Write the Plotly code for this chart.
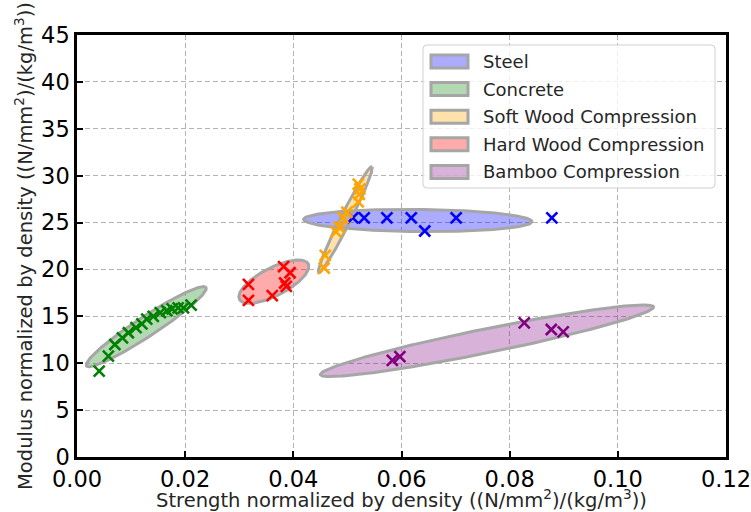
import numpy as np
import plotly.graph_objects as go

# ---- data -------------------------------------------------------------
materials = ["Steel", "Concrete", "Soft Wood Compression",
             "Hard Wood Compression", "Bamboo Compression"]

steel_x = [0.0510, 0.0531, 0.0573, 0.0618, 0.0643, 0.0701, 0.0878]
steel_y = [25.5, 25.5, 25.5, 25.5, 24.1, 25.5, 25.5]

concrete_x = [0.0041, 0.0058, 0.0070, 0.0084, 0.0095, 0.0109, 0.0120, 0.0129,
              0.0141, 0.0154, 0.0166, 0.0176, 0.0187, 0.0197, 0.0211]
concrete_y = [9.15, 10.75, 12.0, 12.7, 13.25, 13.8, 14.2, 14.7,
              15.0, 15.4, 15.6, 15.8, 15.9, 15.9, 16.2]

softwood_x = [0.0457, 0.0459, 0.0479, 0.0485, 0.0492, 0.0499, 0.0520, 0.0522,
              0.0523, 0.0520]
softwood_y = [20.15, 21.5, 24.0, 24.5, 25.5, 26.1, 27.2, 28.0, 28.6, 29.1]

hardwood_x = [0.0317, 0.0317, 0.0361, 0.0384, 0.0387, 0.0382, 0.0394]
hardwood_y = [18.4, 16.7, 17.2, 18.55, 18.2, 20.3, 19.65]

bamboo_x = [0.0583, 0.0597, 0.0827, 0.0877, 0.0899]
bamboo_y = [10.3, 10.7, 14.3, 13.6, 13.35]

series_x = [steel_x, concrete_x, softwood_x, hardwood_x, bamboo_x]
series_y = [steel_y, concrete_y, softwood_y, hardwood_y, bamboo_y]

# spread ellipses: centre, half-extents along x and y, correlation
ell_cx = [0.0630, 0.0128, 0.0496, 0.0364, 0.0758]
ell_cy = [25.22, 13.9, 25.3, 18.7, 12.4]
ell_sx = [0.0211, 0.0111, 0.0050, 0.00647, 0.0308]
ell_sy = [1.19, 4.27, 5.65, 2.31, 3.82]
ell_rho = [-0.1, 0.955, 0.977, 0.70, 0.94]

x_ticks = [0.00, 0.02, 0.04, 0.06, 0.08, 0.10, 0.12]
y_ticks = [0, 5, 10, 15, 20, 25, 30, 35, 40, 45]

# ---- styling ----------------------------------------------------------
marker_colors = ["#0000ff", "#008000", "#ffa500", "#ff0000", "#800080"]
fill_colors = ["rgba(0,0,255,0.33)", "rgba(0,128,0,0.3)", "rgba(255,165,0,0.33)",
               "rgba(255,0,0,0.33)", "rgba(128,0,128,0.3)"]
edge_color = "#a6a6a6"
FONT = "DejaVu Sans"

W, H = 751, 512
L, R, T, B = 77, 25, 35, 55
PW, PH = W - L - R, H - T - B


def px_x(px):
    return (px - L) / PW


def px_y(py):
    return (H - B - py) / PH


def ellipse(cx, cy, sx, sy, rho, n=240):
    t = np.linspace(0, 2 * np.pi, n)
    a, b = np.sqrt(1 + rho), np.sqrt(1 - rho)
    u = (a * np.cos(t) - b * np.sin(t)) / np.sqrt(2)
    v = (a * np.cos(t) + b * np.sin(t)) / np.sqrt(2)
    return cx + sx * u, cy + sy * v


fig = go.Figure()

# ellipses underneath the points
for i, name in enumerate(materials):
    ex, ey = ellipse(ell_cx[i], ell_cy[i], ell_sx[i], ell_sy[i], ell_rho[i])
    fig.add_trace(go.Scatter(
        x=ex, y=ey, mode="lines", fill="toself", fillcolor=fill_colors[i],
        line=dict(color=edge_color, width=3), name=name, showlegend=False,
        hoverinfo="skip"))

for i, name in enumerate(materials):
    fig.add_trace(go.Scatter(
        x=series_x[i], y=series_y[i], mode="markers", name=name,
        showlegend=False,
        marker=dict(symbol="x-thin", size=11, color=marker_colors[i],
                    line=dict(color=marker_colors[i], width=2.6))))

# ---- legend box drawn as shapes + text ---------------------------------
shapes = []
annotations = []
fx0, fx1, fy0, fy1 = 423, 715, 45, 188
r = 4
x0, x1 = px_x(fx0), px_x(fx1)
y0, y1 = px_y(fy1), px_y(fy0)
rx, ry = r / PW, r / PH
path = (f"M{x0 + rx},{y1} L{x1 - rx},{y1} Q{x1},{y1} {x1},{y1 - ry} "
        f"L{x1},{y0 + ry} Q{x1},{y0} {x1 - rx},{y0} L{x0 + rx},{y0} "
        f"Q{x0},{y0} {x0},{y0 + ry} L{x0},{y1 - ry} Q{x0},{y1} {x0 + rx},{y1} Z")
shapes.append(dict(type="path", xref="paper", yref="paper", path=path,
                   fillcolor="rgba(255,255,255,0.8)",
                   line=dict(color="#d0d0d0", width=1), layer="above"))

row0, row_step = 61.5, 27.6
for i, name in enumerate(materials):
    cy = row0 + i * row_step
    shapes.append(dict(type="rect", xref="paper", yref="paper",
                       x0=px_x(431), x1=px_x(468),
                       y0=px_y(cy + 6.5), y1=px_y(cy - 6.5),
                       fillcolor=fill_colors[i],
                       line=dict(color=edge_color, width=3), layer="above"))
    annotations.append(dict(text=name, xref="paper", yref="paper",
                            x=px_x(481), y=px_y(cy), xanchor="left",
                            yanchor="middle", showarrow=False,
                            font=dict(family=FONT, size=18, color="#262626")))

axis_common = dict(
    showline=True, linecolor="black", linewidth=2.5, mirror=True,
    ticks="inside", ticklen=6, tickwidth=2, tickcolor="black",
    showgrid=True, gridcolor="#b3b3b3", gridwidth=1.2, griddash="5px,3px",
    zeroline=False, automargin=False, ticklabeloverflow="allow",
    tickfont=dict(family=FONT, size=22.5, color="black"),
)

fig.update_layout(
    width=W, height=H,
    margin=dict(l=L, r=R, t=T, b=B, pad=0, autoexpand=False),
    plot_bgcolor="white", paper_bgcolor="white",
    font=dict(family=FONT, color="#262626"),
    shapes=shapes, annotations=annotations,
    xaxis=dict(range=[0, 0.12], tickvals=x_ticks,
               ticktext=[f"{v:.2f}" for v in x_ticks],
               title=dict(text="Strength normalized by density ((N/mm<sup>2</sup>)/(kg/m<sup>3</sup>))",
                          font=dict(family=FONT, size=19.5, color="#262626"),
                          standoff=4),
               **axis_common),
    yaxis=dict(range=[0, 45], tickvals=y_ticks,
               ticktext=[str(v) for v in y_ticks],
               title=dict(text="Modulus normalized by density ((N/mm<sup>2</sup>)/(kg/m<sup>3</sup>))",
                          font=dict(family=FONT, size=19.5, color="#262626"),
                          standoff=4),
               **axis_common),
    showlegend=False,
)

fig.write_html("out.html")
